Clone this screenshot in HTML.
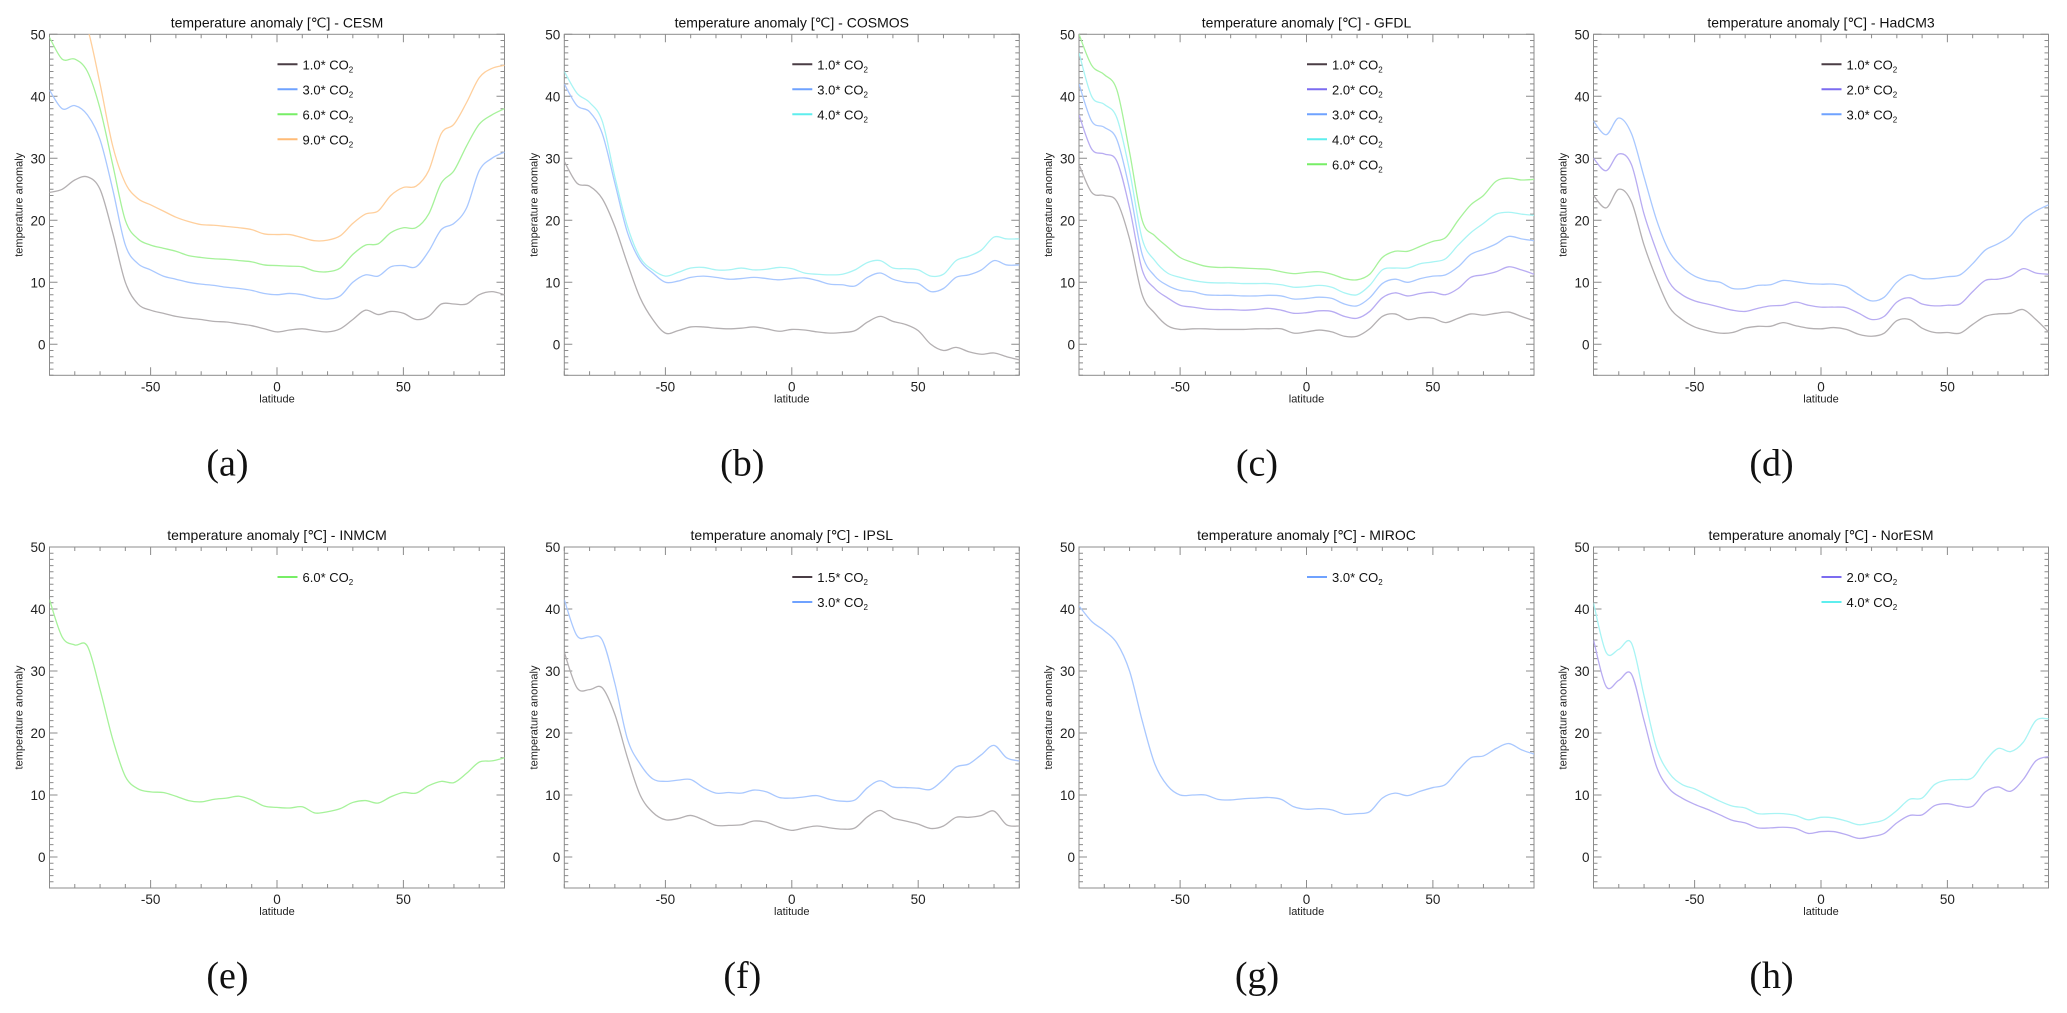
<!DOCTYPE html>
<html><head><meta charset="utf-8"><style>
html,body{margin:0;padding:0;background:#fff;}
svg{display:block;font-family:"Liberation Sans",sans-serif;}
</style></head><body>
<svg id="fig" width="2067" height="1013" viewBox="0 0 2067 1013" xmlns="http://www.w3.org/2000/svg"></svg>
<script>
const lats=[-90,-85,-80,-75,-70,-65,-60,-55,-50,-45,-40,-35,-30,-25,-20,-15,-10,-5,0,5,10,15,20,25,30,35,40,45,50,55,60,65,70,75,80,85,90];
const yTicks=[0,10,20,30,40,50];
const xTickLabels=[-50,0,50];
const panelTitles=["CESM","COSMOS","GFDL","HadCM3","INMCM","IPSL","MIROC","NorESM"];
const panelLetters=["(a)","(b)","(c)","(d)","(e)","(f)","(g)","(h)"];
const cesm_10=[24.5,25,26.5,27,25,18,10,6.5,5.5,5,4.5,4.2,4,3.7,3.6,3.3,3,2.5,2,2.3,2.5,2.2,2,2.5,4,5.5,4.8,5.3,5,4,4.5,6.5,6.5,6.5,8,8.5,8];
const cesm_30=[41,38,38.5,37,33,25,16,13,12,11,10.5,10,9.7,9.5,9.2,9,8.7,8.2,8,8.2,8,7.5,7.3,7.8,10,11.2,11,12.5,12.7,12.5,15,18.5,19.5,22,28,30,31];
const cesm_60=[49.5,46,46,44,38,29,20,17,16,15.5,15,14.3,14,13.8,13.7,13.5,13.3,12.8,12.7,12.6,12.5,11.8,11.7,12.3,14.5,16,16.2,18,18.8,18.8,21,26,28,32,35.5,37,38];
const cesm_90=[60,58,55,51,42,32,26,23.5,22.5,21.5,20.5,19.8,19.3,19.2,19,18.8,18.5,17.8,17.7,17.7,17.2,16.7,16.8,17.5,19.5,21,21.5,24,25.3,25.5,28,34,35.5,39,43,44.5,45];
const cosmos_10=[29.5,26,25.5,23.5,19,13,7.5,4,1.8,2.2,2.8,2.8,2.6,2.5,2.6,2.8,2.5,2.1,2.4,2.3,2,1.8,1.9,2.2,3.6,4.5,3.7,3.2,2.2,0,-1,-0.5,-1.2,-1.6,-1.4,-2,-2.5];
const cosmos_30=[42,38.5,37.5,34,26,18,13.5,11.5,10,10.2,10.8,11,10.8,10.5,10.6,10.8,10.6,10.4,10.6,10.7,10.3,9.7,9.6,9.4,10.8,11.5,10.5,10,9.8,8.5,9,10.8,11.2,12,13.5,12.8,12.8];
const cosmos_40=[44,40.5,39,36,27,19,14,12,11,11.6,12.3,12.4,12,12,12.3,12,12.1,12.4,12.2,11.5,11.3,11.2,11.3,12,13.2,13.5,12.3,12.2,12,11,11.3,13.5,14.2,15.2,17.3,17,17];
const gfdl_10=[29,24.5,24,23,17,8,5,3,2.4,2.5,2.5,2.4,2.4,2.4,2.5,2.5,2.5,1.8,2,2.3,2,1.3,1.3,2.5,4.5,4.9,4,4.3,4.2,3.5,4.2,4.9,4.7,5,5.2,4.5,3.8];
const gfdl_20=[37,31.5,30.7,29.5,22,12,9,7.5,6.3,6,5.7,5.6,5.6,5.5,5.6,5.8,5.5,5,5.1,5.4,5.3,4.5,4.2,5.3,7.5,8.3,7.8,8.2,8.4,8,9,10.8,11.2,11.7,12.5,12,11.3];
const gfdl_30=[42,36,35,33,25,14.5,11,9.5,8.7,8.5,8,7.9,7.9,7.8,7.8,7.9,7.8,7.3,7.4,7.6,7.4,6.5,6.2,7.5,9.8,10.5,10,10.6,11,11.2,12.5,14.5,15.3,16.2,17.4,17,16.7];
const gfdl_40=[47,40,38.7,36.5,28,17,13.5,11.5,10.8,10.3,10,9.9,9.9,9.8,9.8,9.8,9.6,9.2,9.3,9.5,9.2,8.3,8,9.5,12,12.3,12.3,13,13.3,13.8,16,18,19.5,21,21.3,21,20.8];
const gfdl_60=[50,45,43.5,41,31,20,17.5,15.7,14,13.2,12.6,12.4,12.4,12.3,12.2,12.1,11.7,11.4,11.6,11.7,11.3,10.6,10.4,11.3,14,15,15,15.8,16.6,17.2,20,22.5,24,26.3,26.8,26.5,26.6];
const had_10=[24,22,25,23,16,10.5,6,4,2.8,2.2,1.8,1.9,2.6,2.9,2.9,3.5,3,2.6,2.5,2.7,2.4,1.6,1.3,1.8,3.8,4,2.6,1.9,1.9,1.8,3.2,4.5,4.9,5,5.6,4,2];
const had_20=[30,28,30.7,29,21,15,10,8,7,6.5,6,5.5,5.3,5.8,6.2,6.3,6.8,6.3,6,6,5.9,5,4,4.5,6.8,7.5,6.5,6.2,6.3,6.5,8.5,10.3,10.5,11,12.2,11.5,11.3];
const had_30=[36,33.8,36.5,34,27,20,15,12.5,11,10.3,10,9,9,9.5,9.6,10.3,10.1,9.8,9.7,9.7,9.3,8,7,7.6,10,11.2,10.6,10.6,10.9,11.2,13,15.2,16.2,17.5,20,21.5,22.5];
const inm_60=[41.5,35.5,34.2,34,27,19,13,11,10.5,10.4,9.8,9.1,8.9,9.3,9.5,9.8,9.2,8.2,8,7.9,8.1,7.1,7.3,7.8,8.8,9.1,8.7,9.7,10.4,10.3,11.5,12.2,12,13.5,15.3,15.5,16];
const ipsl_15=[33,27.3,27,27.3,23,16,10,7.2,6,6.2,6.7,6,5.1,5.1,5.2,5.8,5.6,4.8,4.3,4.7,5,4.7,4.5,4.7,6.5,7.5,6.3,5.8,5.3,4.6,5,6.4,6.4,6.7,7.4,5.2,5];
const ipsl_30=[41.5,35.7,35.5,35,28,19,15,12.6,12.2,12.4,12.5,11.2,10.3,10.4,10.3,10.8,10.5,9.6,9.5,9.7,9.9,9.3,9,9.2,11.2,12.3,11.3,11.2,11.1,10.9,12.5,14.5,15,16.5,18,16,15.5];
const miroc_30=[40.5,38,36.5,34.5,30,22,15,11.5,10,10,10,9.3,9.2,9.4,9.5,9.6,9.3,8.1,7.7,7.8,7.6,6.9,7,7.3,9.5,10.3,9.9,10.6,11.2,11.7,14,16,16.3,17.5,18.3,17.3,16.6];
const nor_20=[35,27.5,28.5,29.5,22,14.5,11,9.5,8.5,7.7,6.8,5.9,5.5,4.7,4.7,4.8,4.6,3.8,4.1,4.1,3.6,3,3.3,3.8,5.5,6.7,6.8,8.3,8.6,8.2,8.2,10.5,11.3,10.6,12.5,15.5,16.2];
const nor_40=[41,33,33.5,34.5,26,17.5,13.5,11.7,11,10,9,8.2,7.9,7,7,7,6.7,6,6.4,6.3,5.8,5.2,5.5,6,7.5,9.3,9.5,11.7,12.4,12.5,12.8,15.5,17.5,17,18.5,22,22.3];

const styles={"1.0":["#b4b0b2","#4a3d45"],"1.5":["#b4b0b2","#4a3d45"],"2.0":["#b8acf2","#7c6cf0"],"3.0":["#a9c8ff","#6fa2ff"],"4.0":["#a8f4f4","#5eeeee"],"6.0":["#a6f29a","#77ee66"],"9.0":["#ffcf9c","#ffbb77"]};
const panels=[
 [["1.0",cesm_10],["3.0",cesm_30],["6.0",cesm_60],["9.0",cesm_90]],
 [["1.0",cosmos_10],["3.0",cosmos_30],["4.0",cosmos_40]],
 [["1.0",gfdl_10],["2.0",gfdl_20],["3.0",gfdl_30],["4.0",gfdl_40],["6.0",gfdl_60]],
 [["1.0",had_10],["2.0",had_20],["3.0",had_30]],
 [["6.0",inm_60]],
 [["1.5",ipsl_15],["3.0",ipsl_30]],
 [["3.0",miroc_30]],
 [["2.0",nor_20],["4.0",nor_40]]
];
const NS="http://www.w3.org/2000/svg";
const svg=document.getElementById('fig');
function mk(tag,attrs,parent,text){const e=document.createElementNS(NS,tag);for(const k in attrs)e.setAttribute(k,attrs[k]);if(text!==undefined)e.textContent=text;(parent||svg).appendChild(e);return e;}
const lefts=[49.5,564.3,1079,1593.5], W=455, zeroY=[344.3,857], PPU=6.2;
const defs=mk('defs',{});
panels.forEach((series,pi)=>{
  const L=lefts[pi%4], y0=zeroY[Math.floor(pi/4)];
  const xs=lat=>L+(lat+90)/180*W;
  const ys=v=>y0-v*PPU;
  const top=ys(50), bot=ys(-5);
  const g=mk('g',{});
  
  
  const cp=mk('clipPath',{id:'c'+pi},defs);
  mk('rect',{x:L,y:top,width:W,height:bot-top},cp);
  // title
  const t=mk('text',{x:L+W/2,y:top-7,'text-anchor':'middle','font-size':14,fill:'#111'},g,'temperature anomaly [℃] - '+panelTitles[pi]);
  
  
  // frame
  const fr=mk('rect',{x:L,y:top,width:W,height:bot-top,fill:'none',stroke:'#8c8c8c','stroke-width':1},g);
  
  
  // ticks
  let d='';
  for(let v=-5;v<=50;v++){const y=ys(v),len=(v%10===0)?8:4;d+=`M${L},${y}h${len}M${L+W},${y}h${-len}`;}
  for(let la=-90;la<=90;la+=10){const x=xs(la),len=(la%50===0)?8:4;d+=`M${x},${bot}v${-len}M${x},${top}v${len}`;}
  const tk=mk('path',{d:d,stroke:'#8c8c8c','stroke-width':1,fill:'none'},g);
  
  
  yTicks.forEach(v=>{const e=mk('text',{x:L-4,y:ys(v)+5,'text-anchor':'end','font-size':13.5,fill:'#222'},g,String(v));
    
    });
  xTickLabels.forEach(v=>{const e=mk('text',{x:xs(v),y:bot+16,'text-anchor':'middle','font-size':13.5,fill:'#222'},g,String(v));
    
    });
  const xl=mk('text',{x:L+W/2,y:bot+27,'text-anchor':'middle','font-size':11,fill:'#222'},g,'latitude');
  
  
  const yl=mk('text',{x:0,y:0,transform:`translate(${L-27},${(top+bot)/2}) rotate(-90)`,'text-anchor':'middle','font-size':11,fill:'#222'},g,'temperature anomaly');
  
  
  // series
  series.forEach((s,si)=>{
    const [lab,vals]=s; const col=styles[lab];
    const pts=lats.map((la,i)=>[xs(la),ys(vals[i])]);
    let p=`M${pts[0][0]},${pts[0][1]}`;
    for(let i=0;i<pts.length-1;i++){const p0=pts[Math.max(0,i-1)],p1=pts[i],p2=pts[i+1],p3=pts[Math.min(pts.length-1,i+2)];
      const c1=[p1[0]+(p2[0]-p0[0])/6,p1[1]+(p2[1]-p0[1])/6],c2=[p2[0]-(p3[0]-p1[0])/6,p2[1]-(p3[1]-p1[1])/6];
      p+=`C${c1[0]},${c1[1]} ${c2[0]},${c2[1]} ${p2[0]},${p2[1]}`;}
    const ln=mk('path',{d:p,fill:'none',stroke:col[0],'stroke-width':1.3,'clip-path':`url(#c${pi})`},g);
    
    
    const ly=top+30+si*25;
    const lg=mk('g',{},g);
    
    
    mk('line',{x1:L+228,x2:L+248,y1:ly,y2:ly,stroke:col[1],'stroke-width':2},lg);
    const tx=mk('text',{x:L+253,y:ly+5,'font-size':13,fill:'#111'},lg,lab+'* CO');
    mk('tspan',{'font-size':8,dy:3},tx,'2');
  });
  const pl=mk('text',{x:L+178,y:y0+131,'text-anchor':'middle','font-size':38,'font-family':'Liberation Serif, serif',fill:'#111'},g,panelLetters[pi]);
  
  
});
</script>
</body></html>
